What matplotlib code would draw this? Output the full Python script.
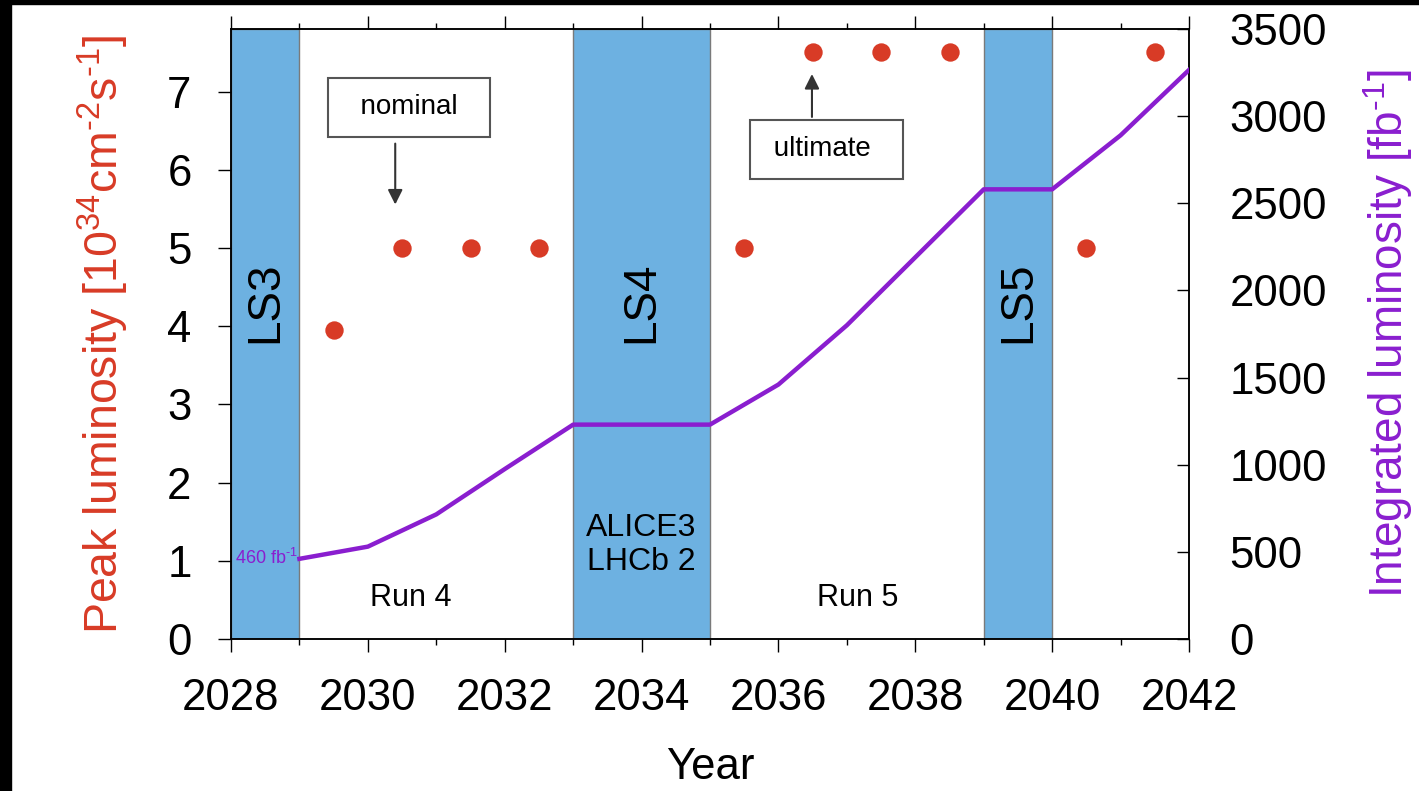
import numpy as np
import matplotlib
matplotlib.use('Agg')
import matplotlib.pyplot as plt
from matplotlib.patches import Rectangle
from matplotlib.ticker import MultipleLocator

plt.rcParams['font.family'] = ['Liberation Sans', 'DejaVu Sans']
plt.rcParams['mathtext.fontset'] = 'custom'
plt.rcParams['mathtext.rm'] = 'Liberation Sans'
plt.rcParams['mathtext.it'] = 'Liberation Sans:italic'
plt.rcParams['mathtext.bf'] = 'Liberation Sans:bold'

# Peak luminosity per year [10^34 cm^-2 s^-1]
peak_years = [2029.5, 2030.5, 2031.5, 2032.5, 2035.5, 2036.5, 2037.5, 2038.5, 2040.5, 2041.5]
peak_lumi = [3.95, 5, 5, 5, 5, 7.5, 7.5, 7.5, 5, 7.5]

# Integrated luminosity [fb^-1]
int_years = [2029, 2030, 2031, 2032, 2033, 2035, 2036, 2037, 2038, 2039, 2040, 2041, 2042]
int_lumi = [460, 530, 715, 975, 1230, 1230, 1460, 1800, 2190, 2580, 2580, 2890, 3265]

# Long shutdowns
shutdowns = ['LS3', 'LS4', 'LS5']
ls_start = [2028, 2033, 2039]
ls_end = [2029, 2035, 2040]

# Run labels
runs = ['Run 4', 'Run 5']
run_x = [2030.63, 2037.16]

red = '#D83B26'
purple = '#8A1ECF'
blue = '#6DB1E1'

fig = plt.figure(figsize=(14.19, 7.91), dpi=100)
ax = fig.add_axes([231/1419, 1 - 639/791, (1189 - 231)/1419, (639 - 29)/791])
ax2 = ax.twinx()

for name, a, b in zip(shutdowns, ls_start, ls_end):
    ax.axvspan(a, b, facecolor=blue, edgecolor='#7a7a7a', lw=1.0, zorder=0)
    ax.text((a + b) / 2, 4.3, name, rotation=90, ha='center', va='center', fontsize=33)

ax.text(2034, 1.2, 'ALICE3\nLHCb 2', ha='center', va='center', fontsize=23,
        linespacing=1.2)
for name, x in zip(runs, run_x):
    ax.text(x, 0.52, name, ha='center', va='center', fontsize=22)

ax.scatter(peak_years, peak_lumi, s=175, color=red, zorder=3, linewidths=0)

# nominal / ultimate annotations
box = dict(boxstyle='square,pad=0.6', fc='white', ec='#555555', lw=1.5)
ax.text(2030.6, 6.8, '  nominal  ', ha='center', va='center', fontsize=20, bbox=box, zorder=4)
ax.annotate('', xy=(2030.4, 5.52), xytext=(2030.4, 6.37),
            arrowprops=dict(arrowstyle='-|>', color='#333333', lw=1.5, mutation_scale=22))
ax.text(2036.7, 6.26, ' ultimate  ', ha='center', va='center', fontsize=20, bbox=box, zorder=4)
ax.annotate('', xy=(2036.49, 7.26), xytext=(2036.49, 6.64),
            arrowprops=dict(arrowstyle='-|>', color='#333333', lw=1.5, mutation_scale=22))

ax2.plot(int_years, int_lumi, color=purple, lw=3.2, solid_joinstyle='round', zorder=3)
ax2.text(2028.97, 465, r'460 fb$^{\text{-}1}$', color=purple, ha='right', va='center', fontsize=13)

ax.set_xlim(2028, 2042)
ax.set_ylim(0, 7.8)
ax2.set_ylim(0, 3500)

ax.xaxis.set_major_locator(MultipleLocator(2))
ax.xaxis.set_minor_locator(MultipleLocator(1))
ax.yaxis.set_major_locator(MultipleLocator(1))
ax2.yaxis.set_major_locator(MultipleLocator(500))

ax.tick_params(axis='x', which='major', direction='out', length=9.4, width=1.0,
               top=True, labelsize=31.5, pad=19)
ax.tick_params(axis='x', which='minor', direction='out', length=4.5, width=1.0, top=True)
ax.tick_params(axis='y', direction='out', length=9.4, width=1.0, right=False,
               labelsize=31.5, pad=19)
ax2.tick_params(axis='y', direction='in', length=9, width=1.0, labelsize=31.5, pad=29)

for sp in list(ax.spines.values()) + list(ax2.spines.values()):
    sp.set_linewidth(1.1)

ax.set_xlabel('Year', fontsize=31.5, labelpad=20)
ax.set_ylabel(r'Peak luminosity [10$^{34}$cm$^{\text{-}2}$s$^{\text{-}1}$]', color=red,
              fontsize=33.5, labelpad=26)
ax2.set_ylabel(r'Integrated luminosity [fb$^{\text{-}1}$]', color=purple, fontsize=33,
               labelpad=25)

# dark edge strips along the top and left
fig.add_artist(Rectangle((0, 1 - 4/791), 1, 4/791, transform=fig.transFigure,
                         color='black', zorder=10))
fig.add_artist(Rectangle((0, 0), 11/1419, 1, transform=fig.transFigure,
                         color='black', zorder=10))

fig.savefig('out.png', dpi=100)
